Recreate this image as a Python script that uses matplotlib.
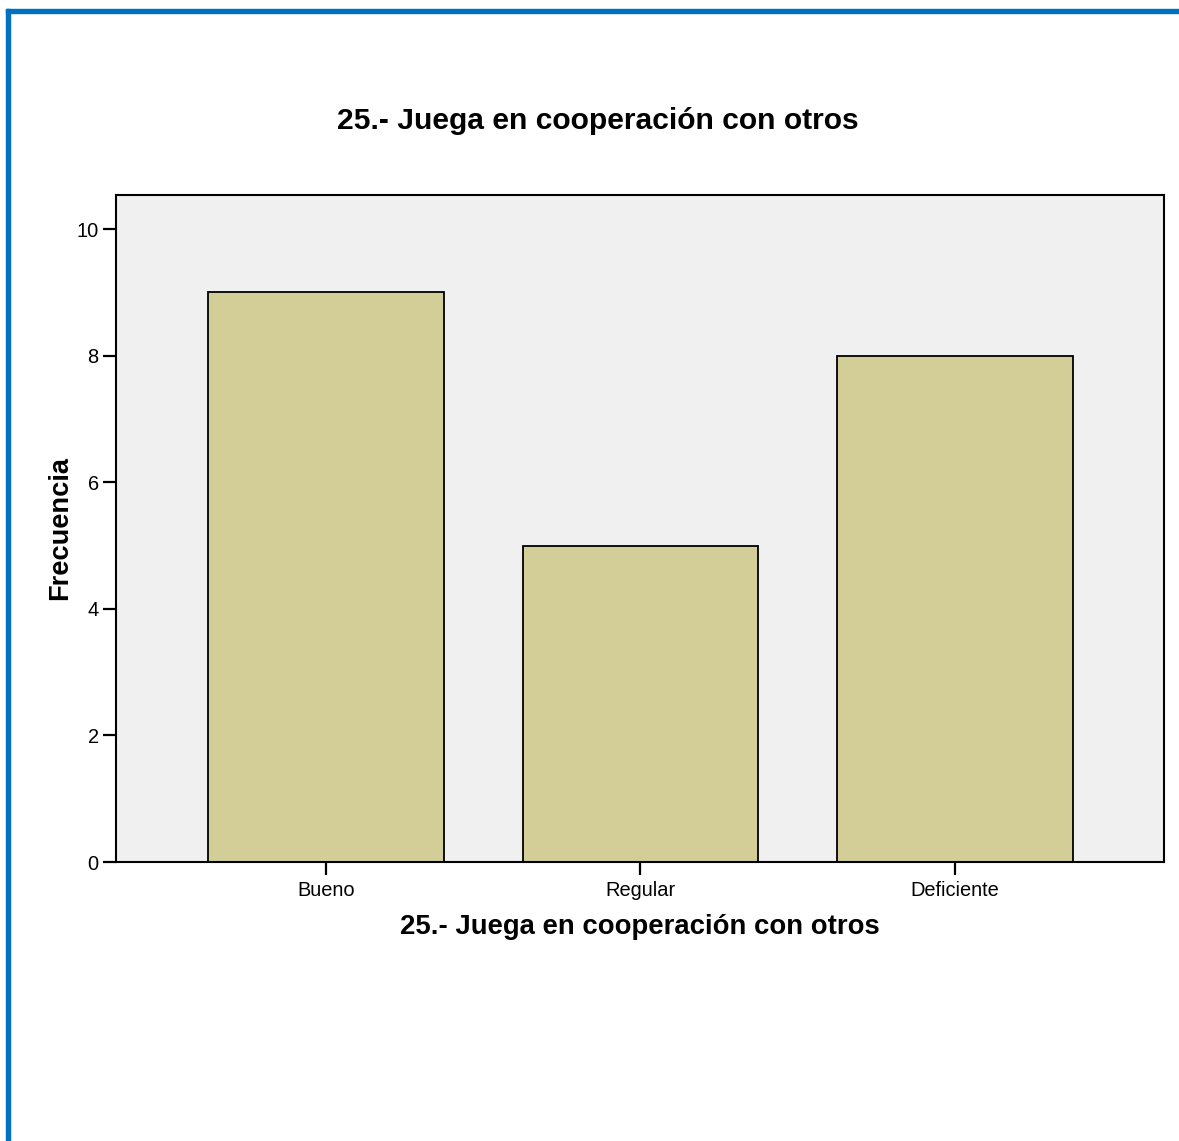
import matplotlib
matplotlib.use("Agg")
import matplotlib.pyplot as plt
from matplotlib.patches import Rectangle
import numpy as np

categories = ["Bueno", "Regular", "Deficiente"]
counts = [9, 5, 8]
yticks = [0, 2, 4, 6, 8, 10]
title = "25.- Juega en cooperación con otros"

plt.rcParams["font.family"] = ["Liberation Sans", "DejaVu Sans"]

W, H = 1179, 1141
fig = plt.figure(figsize=(W / 100, H / 100), dpi=100)
ax = fig.add_axes([116 / W, 1 - 862 / H, (1164 - 116) / W, (862 - 195) / H])

x = np.arange(len(categories))
ax.bar(x, counts, width=0.75, color="#d3ce97", edgecolor="black", linewidth=1.3, zorder=2)
ax.set_facecolor("#f0f0f0")
ax.set_xlim(-0.668, 2.665)
ax.set_ylim(0, 10.54)
ax.set_xticks(x)
ax.set_xticklabels(categories, fontsize=14.4)
ax.set_yticks(yticks)
ax.set_yticklabels([str(v) for v in yticks], fontsize=14.4)
ax.tick_params(axis="both", direction="out", length=9.5, width=1.6, pad=3)
ax.tick_params(axis="x", pad=4)
for sp in ax.spines.values():
    sp.set_linewidth(1.5)

ax.set_xlabel(title, fontsize=19.8, fontweight="bold", labelpad=10)
ax.set_ylabel("Frecuencia", fontsize=19.6, fontweight="bold", labelpad=2)
fig.text(598 / W, 1 - 121 / H, title, fontsize=21.6, fontweight="bold",
         ha="center", va="center")

# blue frame on the left and top
blue = "#0070c0"
fig.patches.append(Rectangle((6 / W, 0), 4 / W, 1 - 9 / H, transform=fig.transFigure,
                             color=blue, zorder=5))
fig.patches.append(Rectangle((6 / W, 1 - 13 / H), 1 - 6 / W, 4 / H, transform=fig.transFigure,
                             color=blue, zorder=5))

fig.savefig("out.png", dpi=100)
